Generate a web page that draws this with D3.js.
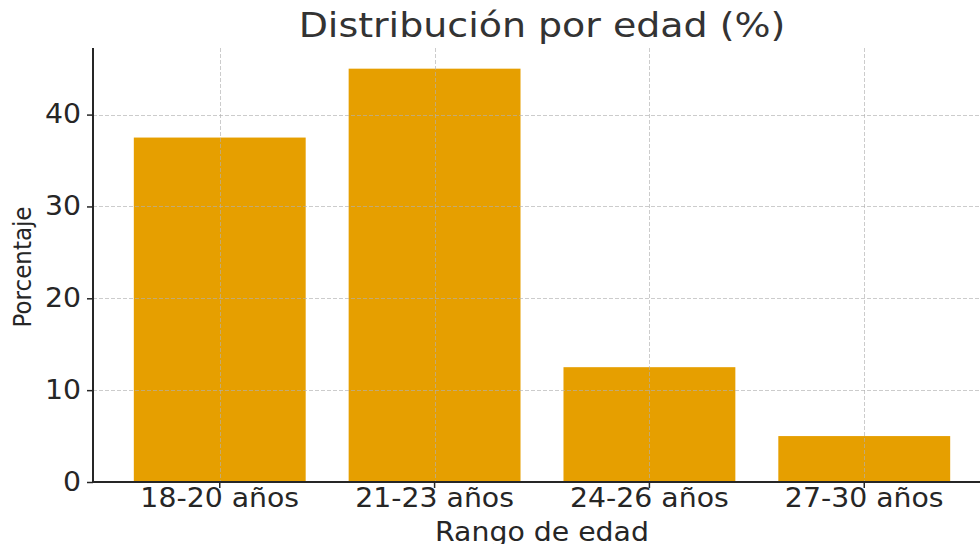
<!DOCTYPE html>
<html>
<head>
<meta charset="utf-8">
<script src="https://cdn.jsdelivr.net/npm/d3@7"></script>
<style>
  html, body { margin: 0; padding: 0; background: #fff; }
  svg { display: block; font-family: "DejaVu Sans", sans-serif; }
</style>
</head>
<body>
<div id="chart"></div>
<script>
// Age distribution bar chart (matplotlib-like look).

const categories = ['18-20 años', '21-23 años', '24-26 años', '27-30 años'];
const values = [37.5, 45, 12.5, 5];
const yTicks = [0, 10, 20, 30, 40];

const W = 980, H = 544;
// axes box runs past the right edge of the picture
const m = { left: 93, bottom: 482, top: 48, right: 991 };

const svg = d3.select('#chart').append('svg')
  .attr('width', W).attr('height', H)
  .attr('viewBox', `0 0 ${W} ${H}`);

const x = d3.scaleBand()
  .domain(categories)
  .range([m.left, m.right])
  .paddingInner(0.2)
  .paddingOuter(0.19);

const y = d3.scaleLinear()
  .domain([0, 47.25])
  .range([m.bottom, m.top]);

// bars
svg.append('g').selectAll('rect').data(values).join('rect')
  .attr('x', (d, i) => x(categories[i]))
  .attr('y', (d) => y(d))
  .attr('width', x.bandwidth())
  .attr('height', (d) => y(0) - y(d))
  .attr('fill', '#E69F00');

// grid on top of bars
const grid = svg.append('g')
  .attr('stroke', '#b0b0b0')
  .attr('stroke-opacity', 0.65)
  .attr('stroke-width', 1)
  .attr('stroke-dasharray', '4,2');

grid.selectAll('line.h').data(yTicks.filter((t) => t > 0)).join('line')
  .attr('class', 'h')
  .attr('x1', m.left).attr('x2', m.right)
  .attr('y1', (d) => Math.round(y(d)) + 0.5).attr('y2', (d) => Math.round(y(d)) + 0.5);

grid.selectAll('line.v').data(categories).join('line')
  .attr('class', 'v')
  .attr('x1', (d) => Math.round(x(d) + x.bandwidth() / 2) + 0.5)
  .attr('x2', (d) => Math.round(x(d) + x.bandwidth() / 2) + 0.5)
  .attr('y1', m.top).attr('y2', m.bottom);

// axes
const yAxis = d3.axisLeft(y).tickValues(yTicks).tickSize(6).tickPadding(6);
const xAxis = d3.axisBottom(x).tickSize(6).tickPadding(4);

const gy = svg.append('g').attr('transform', `translate(${m.left},0)`).call(yAxis);
const gx = svg.append('g').attr('transform', `translate(0,${m.bottom})`).call(xAxis);

[gx, gy].forEach((g) => {
  g.select('.domain').attr('stroke', '#262626').attr('stroke-width', 2);
  g.selectAll('.tick line').attr('stroke', '#262626').attr('stroke-width', 1.5);
  g.selectAll('.tick text')
    .attr('fill', '#262626')
    .attr('font-size', 26)
    .attr('font-family', '"DejaVu Sans", sans-serif');
});

// spines without the outer tick end caps
gy.select('.domain').attr('d', `M0,${m.top}V${m.bottom}`);
gx.select('.domain').attr('d', `M${m.left},0H${m.right}`);

// slight horizontal stretch of the text as in the reference
gx.selectAll('.tick text')
  .attr('dy', 0)
  .attr('y', 25)
  .attr('transform', 'scale(1.09,1)');
gy.selectAll('.tick text')
  .attr('transform', 'scale(1.09,1)')
  .attr('x', -12 / 1.09);

// title
svg.append('text')
  .attr('transform', `translate(${(m.left + m.right) / 2},37) scale(1.15,1)`)
  .attr('text-anchor', 'middle')
  .attr('font-size', 33)
  .attr('fill', '#333')
  .text('Distribución por edad (%)');

// x label
svg.append('text')
  .attr('transform', `translate(${(m.left + m.right) / 2},541) scale(1.09,1)`)
  .attr('text-anchor', 'middle')
  .attr('font-size', 26)
  .attr('fill', '#262626')
  .text('Rango de edad');

// y label (looks a bit condensed in the reference)
svg.append('text')
  .attr('transform', 'translate(31,267) rotate(-90) scale(1,1.1)')
  .attr('text-anchor', 'middle')
  .attr('font-size', 23)
  .attr('fill', '#262626')
  .text('Porcentaje');
</script>
</body>
</html>
